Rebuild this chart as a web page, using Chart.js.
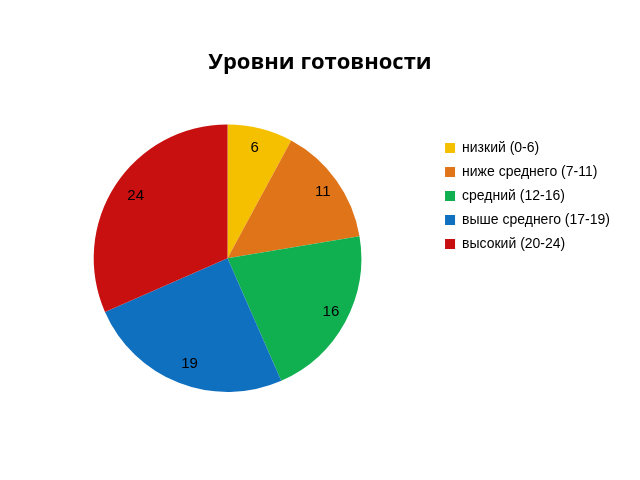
<!DOCTYPE html>
<html><head><meta charset="utf-8">
<script src="https://cdn.jsdelivr.net/npm/chart.js@4"></script>
<style>body{margin:0;background:#fff}#wrap{width:640px;height:480px}</style>
</head><body><div id="wrap"><canvas id="c"></canvas></div>
<script>
const labels = ["низкий (0-6)", "ниже среднего (7-11)", "средний (12-16)", "выше среднего (17-19)", "высокий (20-24)"];
const values = [6, 11, 16, 19, 24];
const colors = ["#f5c000", "#e07418", "#10b050", "#1070c0", "#c81010"];

const valueLabels = {
  id: "valueLabels",
  afterDatasetsDraw(chart) {
    const ctx = chart.ctx;
    const meta = chart.getDatasetMeta(0);
    ctx.save();
    ctx.font = "15px 'Liberation Sans', sans-serif";
    ctx.textBaseline = "middle";
    meta.data.forEach((arc, i) => {
      const mid = (arc.startAngle + arc.endAngle) / 2;
      const r = arc.outerRadius * 0.85;
      const x = arc.x + Math.cos(mid) * r;
      const y = arc.y + Math.sin(mid) * r;
      ctx.fillStyle = colors[i];
      ctx.fillRect(x - 16, y - 4, 8, 8);
      ctx.fillStyle = "#000";
      ctx.fillText(values[i], x - 5, y);
    });
    ctx.restore();
  }
};

new Chart(document.getElementById("c"), {
  type: "pie",
  data: { labels, datasets: [{ data: values, backgroundColor: colors, borderWidth: 0 }] },
  options: {
    responsive: true,
    maintainAspectRatio: false,
    animation: false,
    layout: { padding: { left: 20, right: 20, top: 0, bottom: 88 } },
    plugins: {
      title: {
        display: true,
        text: "Уровни готовности",
        color: "#000",
        font: { family: "'Open Sans', sans-serif", size: 22, weight: "bold" },
        padding: { top: 50, bottom: 48 }
      },
      legend: {
        position: "right",
        align: "center",
        labels: {
          color: "#000",
          boxWidth: 10,
          boxHeight: 10,
          padding: 10,
          font: { family: "'Liberation Sans', sans-serif", size: 14 }
        }
      },
      tooltip: { enabled: false }
    }
  },
  plugins: [valueLabels]
});
</script></body></html>
